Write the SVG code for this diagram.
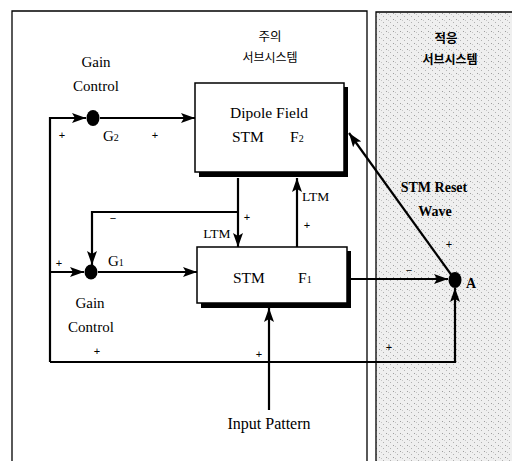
<svg xmlns="http://www.w3.org/2000/svg" width="512" height="461" viewBox="0 0 512 461">
<defs>
<marker id="ah" markerUnits="userSpaceOnUse" markerWidth="15" markerHeight="11" refX="14" refY="5.5" orient="auto">
<path d="M0,0.5 L14,5.5 L0,10.5 L3,5.5 Z" fill="#000"/>
</marker>
<pattern id="speck" width="7" height="6" patternUnits="userSpaceOnUse">
<rect x="1" y="1" width="1" height="1" fill="#666"/>
<rect x="5" y="4" width="1" height="1" fill="#888"/>
<rect x="3" y="2" width="1" height="1" fill="#aaa"/>
</pattern>
<style>
.t{font-family:"Liberation Serif","DejaVu Serif",serif;fill:#000}
.k{font-family:"Noto Sans CJK KR",sans-serif;fill:#000}
.s{font-family:"Liberation Sans","DejaVu Sans",sans-serif;fill:#000;font-size:11px;text-anchor:middle}
.ln{fill:none;stroke:#000;stroke-width:2.2}
.box{fill:#fff;stroke:#000;stroke-width:1.5}
.sh{fill:#000}
.frame{fill:none;stroke:#000;stroke-width:1.3}
</style>
</defs>
<rect width="512" height="461" fill="#fff"/>
<g id="orienting-panel">
<rect x="376" y="12" width="136" height="449" fill="#efefef"/>
<rect x="376" y="12" width="136" height="449" fill="url(#speck)" opacity="0.6"/>
<path class="frame" d="M376,461 V12 H512"/>
<text class="k" x="446" y="43" font-size="12.5" font-weight="bold" text-anchor="middle">적응</text>
<text class="k" x="450" y="64" font-size="12" font-weight="bold" text-anchor="middle">서브시스템</text>
</g>
<g id="attention-panel">
<path class="frame" d="M12,461 V11 H367 V461"/>
<text class="k" x="270" y="41" font-size="12.5" text-anchor="middle">주의</text>
<text class="k" x="270" y="62" font-size="12" text-anchor="middle">서브시스템</text>
</g>
<g id="connectors">
<path class="ln" d="M50,362 V118 H86" marker-end="url(#ah)"/>
<path class="ln" d="M100,118 H195" marker-end="url(#ah)"/>
<path class="ln" d="M50,272 H84" marker-end="url(#ah)"/>
<path class="ln" d="M98,272 H197" marker-end="url(#ah)"/>
<path class="ln" d="M238,178 V247" marker-end="url(#ah)"/>
<path class="ln" d="M238,212 H92 V265" marker-end="url(#ah)"/>
<path class="ln" d="M297,247 V178" marker-end="url(#ah)"/>
<path class="ln" d="M269,410 V308" marker-end="url(#ah)"/>
<path class="ln" d="M351,279 H448" marker-end="url(#ah)"/>
<path class="ln" d="M50,362 H455 V288" marker-end="url(#ah)"/>
<path class="ln" d="M455,280 L349,133" marker-end="url(#ah)"/>
</g>
<g id="dipole-field-F2">
<rect class="sh" x="199" y="87" width="149" height="90"/>
<rect class="box" x="195" y="83" width="149" height="89"/>
<text class="t" x="269" y="118" font-size="15.5" text-anchor="middle">Dipole Field</text>
<text class="t" x="232" y="142" font-size="15.5">STM</text>
<text class="t" x="290" y="142" font-size="15.5">F<tspan font-size="10">2</tspan></text>
</g>
<g id="stm-F1">
<rect class="sh" x="201" y="251" width="150" height="57"/>
<rect class="box" x="197" y="247" width="150" height="56"/>
<text class="t" x="233" y="283" font-size="15.5">STM</text>
<text class="t" x="298" y="283" font-size="15.5">F<tspan font-size="10">1</tspan></text>
</g>
<g id="G2">
<ellipse cx="93" cy="118" rx="6.5" ry="8" fill="#000"/>
<text class="t" x="96" y="67" font-size="15" text-anchor="middle">Gain</text>
<text class="t" x="96" y="91" font-size="15" text-anchor="middle">Control</text>
<text class="t" x="103" y="141" font-size="15">G<tspan font-size="10">2</tspan></text>
</g>
<g id="G1">
<ellipse cx="91" cy="272" rx="6.5" ry="7.5" fill="#000"/>
<text class="t" x="108" y="266" font-size="15">G<tspan font-size="10">1</tspan></text>
<text class="t" x="90" y="308" font-size="15" text-anchor="middle">Gain</text>
<text class="t" x="91" y="332" font-size="15" text-anchor="middle">Control</text>
</g>
<g id="A">
<ellipse cx="455" cy="280" rx="6.5" ry="8" fill="#000"/>
<text class="t" x="466" y="288" font-size="14" font-weight="bold">A</text>
</g>
<g id="input-pattern">
<text class="t" x="269" y="429" font-size="16" text-anchor="middle">Input Pattern</text>
</g>
<g id="labels">
<text class="t" x="434" y="192" font-size="14" font-weight="bold" text-anchor="middle">STM Reset</text>
<text class="t" x="435" y="216" font-size="14" font-weight="bold" text-anchor="middle">Wave</text>
<text class="t" x="217" y="238" font-size="13.5" text-anchor="middle">LTM</text>
<text class="t" x="302" y="201" font-size="13.5">LTM</text>
<text class="s" x="62" y="139">+</text>
<text class="s" x="155" y="139">+</text>
<text class="s" x="113" y="222">−</text>
<text class="s" x="247" y="221">+</text>
<text class="s" x="307" y="229">+</text>
<text class="s" x="59" y="267">+</text>
<text class="s" x="97" y="355">+</text>
<text class="s" x="259" y="358">+</text>
<text class="s" x="409" y="274">−</text>
<text class="s" x="449" y="248">+</text>
<text class="s" x="389" y="351">+</text>
</g>
</svg>
